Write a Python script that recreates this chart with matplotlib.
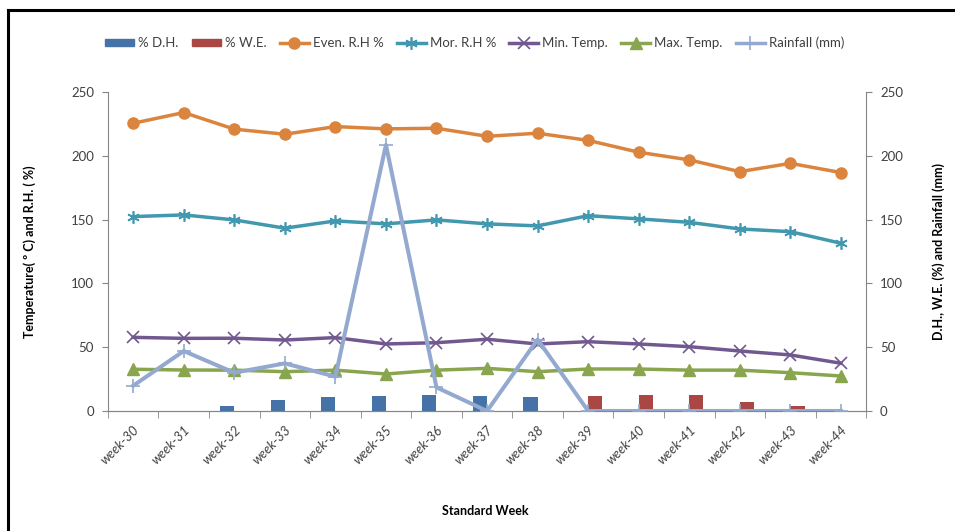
import matplotlib
matplotlib.use("Agg")
import matplotlib.pyplot as plt
from matplotlib.lines import Line2D
import numpy as np

plt.rcParams['font.family'] = ['Lato', 'DejaVu Sans']

weeks = ["week-30", "week-31", "week-32", "week-33", "week-34", "week-35", "week-36",
         "week-37", "week-38", "week-39", "week-40", "week-41", "week-42", "week-43", "week-44"]
dh = [0, 0, 4.3, 9.0, 10.8, 11.4, 12.9, 11.9, 10.8, 0, 0, 0, 0, 0, 0]
we = [0, 0, 0, 0, 0, 0, 0, 0, 0, 11.4, 12.4, 12.9, 7.2, 4.0, 0]
even_rh = [225.4, 233.8, 220.8, 216.8, 222.8, 221.0, 221.5, 215.2, 217.6, 212.0, 202.7, 196.7, 187.5, 194.0, 186.8]
mor_rh = [152.3, 153.6, 149.7, 143.2, 148.9, 146.6, 149.7, 146.6, 145.0, 153.0, 150.5, 147.8, 142.6, 140.5, 131.4]
min_temp = [57.7, 56.9, 57.0, 55.6, 57.5, 52.5, 53.5, 56.2, 52.5, 54.3, 52.5, 50.4, 47.0, 43.9, 37.4]
max_temp = [32.7, 32.1, 32.0, 30.8, 32.0, 29.0, 32.0, 33.4, 30.8, 32.9, 32.9, 32.0, 32.0, 30.0, 27.4]
rainfall = [19.8, 47.0, 30.0, 37.3, 26.9, 208.5, 18.5, 0, 56.0, 0, 0, 0, 0, 0, 0]

c_dh = "#4572A7"
c_we = "#AA4643"
c_even = "#DB843D"
c_mor = "#4198AF"
c_min = "#71588F"
c_max = "#89A54E"
c_rain = "#93A9CF"
spine_c = "#868686"
text_c = "#404040"

fig = plt.figure(figsize=(9.55, 5.31), dpi=100)
ax = fig.add_axes([0.113, 0.226, 0.794, 0.601])
ax2 = ax.twinx()

x = np.arange(len(weeks))
lw = 2.5

ax.plot(x, even_rh, color=c_even, lw=lw, marker='o', ms=8, zorder=3)
ax.plot(x, mor_rh, color=c_mor, lw=lw, marker=(6, 2, 0), ms=9, mew=1.2, zorder=3)
ax.plot(x, min_temp, color=c_min, lw=lw, marker='x', ms=8, mew=1.2, zorder=3)
ax.plot(x, max_temp, color=c_max, lw=lw, marker='^', ms=8, zorder=3)

bw = 0.28
ax2.bar(x - bw / 2, dh, width=bw, color=c_dh, zorder=2)
ax2.bar(x + bw / 2, we, width=bw, color=c_we, zorder=2)
ax2.plot(x, rainfall, color=c_rain, lw=lw + 0.4, marker='+', ms=10, mew=1.2, zorder=3)

for a in (ax, ax2):
    a.set_ylim(0, 250)
    a.set_xlim(-0.5, len(weeks) - 0.5)
    a.set_yticks(np.arange(0, 251, 50))
    for s in a.spines.values():
        s.set_color(spine_c)
    a.spines['top'].set_visible(False)
    a.tick_params(axis='y', colors=spine_c, labelcolor=text_c, labelsize=9.5, length=4, pad=6)

ax.spines['right'].set_visible(False)
ax2.spines['left'].set_visible(False)

ax.set_xticks(x)
ax.set_xticklabels(weeks, rotation=45, ha='right', rotation_mode='anchor',
                   fontsize=9.5, style='italic', color=text_c)
ax.tick_params(axis='x', which='major', length=0, pad=9)
ax.set_xticks(np.arange(-0.5, len(weeks), 1.0), minor=True)
ax.tick_params(axis='x', which='minor', length=5, color=spine_c)

ax.set_ylabel("Temperature( º C) and R.H. ( %)", fontsize=9, fontweight='bold', labelpad=25)
ax2.set_ylabel("D.H., W.E. (%) and Rainfall (mm)", fontsize=9, fontweight='bold', labelpad=21)
fig.text(0.508, 0.038, "Standard Week", ha='center', va='center', fontsize=9, fontweight='bold')

handles = [
    plt.Rectangle((0, 0), 1, 1, color=c_dh),
    plt.Rectangle((0, 0), 1, 1, color=c_we),
    Line2D([], [], color=c_even, lw=lw, marker='o', ms=8),
    Line2D([], [], color=c_mor, lw=lw, marker=(6, 2, 0), ms=9, mew=1.2),
    Line2D([], [], color=c_min, lw=lw, marker='x', ms=8, mew=1.2),
    Line2D([], [], color=c_max, lw=lw, marker='^', ms=8),
    Line2D([], [], color=c_rain, lw=lw, marker='+', ms=10, mew=1.2),
]
labels = ["% D.H.", "% W.E.", "Even. R.H %", "Mor. R.H %", "Min. Temp.", "Max. Temp.", "Rainfall (mm)"]
fig.legend(handles, labels, loc='center', bbox_to_anchor=(0.497, 0.919), ncol=7, frameon=False,
           fontsize=9.5, handlelength=2.2, handleheight=0.5, handletextpad=0.3, columnspacing=1.0,
           labelcolor=text_c)

# frame lines along the top and left edges of the figure
fig.add_artist(Line2D([0.008, 1.0], [0.981, 0.981], transform=fig.transFigure, color='black', lw=2.2))
fig.add_artist(Line2D([0.008, 0.008], [0.0, 0.981], transform=fig.transFigure, color='black', lw=2.2))

fig.savefig("out.png", dpi=100)
